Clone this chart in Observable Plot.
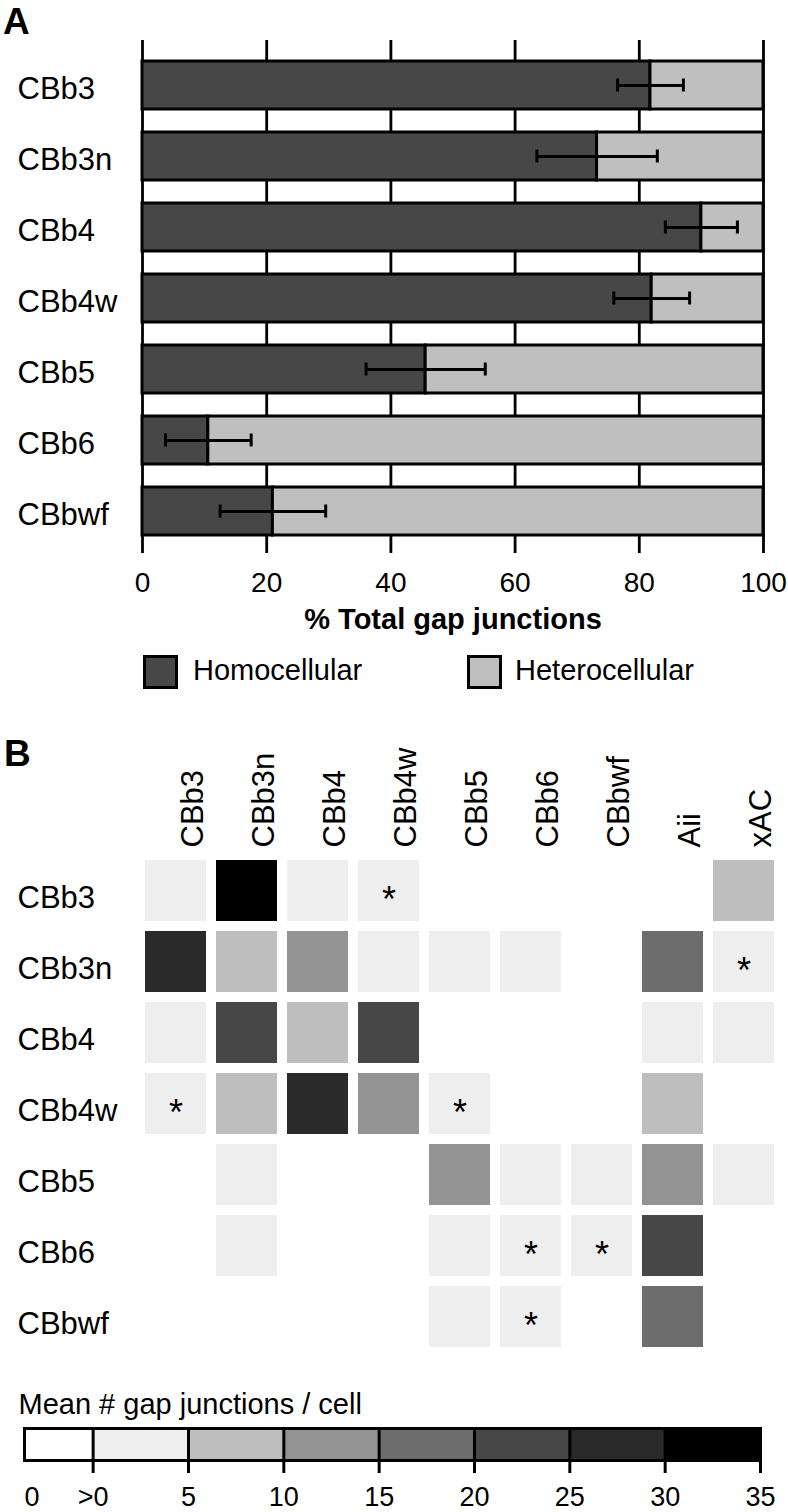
<!DOCTYPE html>
<html>
<head>
<meta charset="utf-8">
<script src="https://cdn.jsdelivr.net/npm/d3@7"></script>
<script src="https://cdn.jsdelivr.net/npm/@observablehq/plot@0.6"></script>
<style>
  body { margin: 0; background: #fff; font-family: "Liberation Sans", Arial, Helvetica, sans-serif; color: #000; }
  #wrap { position: relative; width: 788px; height: 1512px; overflow: hidden; }
  #wrap > svg, #wrap > div { position: absolute; }
  .letter { font-weight: bold; font-size: 37px; line-height: 37px; }
  .sw { width: 29px; height: 28px; border: 3px solid #000; }
  .lt { font-size: 29px; line-height: 29px; white-space: nowrap; }
</style>
</head>
<body>
<div id="wrap"></div>
<script>
// ---------- Panel A data ----------
const cellTypes = ["CBb3", "CBb3n", "CBb4", "CBb4w", "CBb5", "CBb6", "CBbwf"];
const homocellularPct = [81.8, 73.2, 90.0, 82.0, 45.6, 10.6, 21.0];
const errorPct = [5.3, 9.7, 5.8, 6.1, 9.6, 6.9, 8.5];
const xTicks = [0, 20, 40, 60, 80, 100];
const seriesNames = ["Homocellular", "Heterocellular"];
const seriesColors = ["#474747", "#bfbfbf"];
const xLabel = "% Total gap junctions";

// ---------- Panel B data ----------
const heatRows = ["CBb3", "CBb3n", "CBb4", "CBb4w", "CBb5", "CBb6", "CBbwf"];
const heatCols = ["CBb3", "CBb3n", "CBb4", "CBb4w", "CBb5", "CBb6", "CBbwf", "Aii", "xAC"];
// mean # gap junctions / cell (estimated within each shaded bin), 0 = none
const meanGJ = [
  [2, 33, 2, 2, 0, 0, 0, 0, 7],
  [27, 7, 12, 2, 2, 2, 0, 17, 2],
  [2, 22, 7, 22, 0, 0, 0, 2, 2],
  [2, 7, 27, 12, 2, 0, 0, 7, 0],
  [0, 2, 0, 0, 12, 2, 2, 12, 2],
  [0, 2, 0, 0, 2, 2, 2, 22, 0],
  [0, 0, 0, 0, 2, 2, 0, 17, 0]
];
const significant = [
  ["CBb3", "CBb4w"], ["CBb3n", "xAC"], ["CBb4w", "CBb3"], ["CBb4w", "CBb5"],
  ["CBb6", "CBb6"], ["CBb6", "CBbwf"], ["CBbwf", "CBb6"]
];
const binEdges = [0, 5, 10, 15, 20, 25, 30, 35];
const binLabels = [">0", "5", "10", "15", "20", "25", "30", "35"];
const binColors = ["#eeeeee", "#bebebe", "#939393", "#6d6d6d", "#474747", "#2a2a2a", "#000000"];
const legendTitle = "Mean # gap junctions / cell";

const FONT = "Liberation Sans, Arial, Helvetica, sans-serif";
const wrap = document.getElementById("wrap");

function place(el, left, top) {
  el.style.left = left + "px";
  el.style.top = top + "px";
  wrap.appendChild(el);
}
function div(cls, text) {
  const d = document.createElement("div");
  d.className = cls;
  if (text != null) d.textContent = text;
  return d;
}

// ---------- Panel A ----------
const stackData = cellTypes.flatMap((c, i) => [
  {cell: c, type: seriesNames[0], value: homocellularPct[i]},
  {cell: c, type: seriesNames[1], value: 100 - homocellularPct[i]}
]);
const errData = cellTypes.map((c, i) => ({
  cell: c, lo: homocellularPct[i] - errorPct[i], hi: homocellularPct[i] + errorPct[i]
}));

const plotA = Plot.plot({
  width: 788, height: 640,
  marginTop: 60, marginBottom: 104, marginLeft: 142, marginRight: 25,
  style: {fontFamily: FONT, background: "transparent", color: "#000", overflow: "visible"},
  x: {domain: [0, 100]},
  y: {domain: cellTypes, axis: null, paddingInner: 0.33, paddingOuter: 0},
  color: {domain: seriesNames, range: seriesColors},
  marks: [
    Plot.ruleX(xTicks, {stroke: "#000", strokeWidth: 2.8}),
    Plot.axisX({anchor: "top", ticks: xTicks, tickSize: 21, tickFormat: () => "", strokeWidth: 2.8, label: null}),
    Plot.axisX({anchor: "bottom", ticks: xTicks, tickSize: 17, tickPadding: 19, fontSize: 28, strokeWidth: 2.8, label: null}),
    Plot.barX(stackData, {x: "value", y: "cell", fill: "type", stroke: "#000", strokeWidth: 3, inset: 0}),
    Plot.ruleY(errData, {y: "cell", x1: "lo", x2: "hi", stroke: "#000", strokeWidth: 3}),
    Plot.tickX(errData, {x: "lo", y: "cell", stroke: "#000", strokeWidth: 3, insetTop: 17.5, insetBottom: 17.5}),
    Plot.tickX(errData, {x: "hi", y: "cell", stroke: "#000", strokeWidth: 3, insetTop: 17.5, insetBottom: 17.5}),
    Plot.text(cellTypes, {y: d => d, frameAnchor: "left", textAnchor: "start", dx: -125, dy: 4, fontSize: 31}),
    Plot.text([xLabel], {frameAnchor: "bottom", lineAnchor: "top", dy: 72, fontSize: 29, fontWeight: "bold"})
  ]
});
place(plotA, 0, 0);

// Panel A legend
const sw1 = div("sw"); sw1.style.background = seriesColors[0];
place(sw1, 143, 655);
place(div("lt", seriesNames[0]), 193, 656);
const sw2 = div("sw"); sw2.style.background = seriesColors[1];
place(sw2, 467, 655);
place(div("lt", seriesNames[1]), 515, 656);

// ---------- Panel B ----------
const heatData = heatRows.flatMap((r, i) => heatCols.map((c, j) => ({row: r, col: c, value: meanGJ[i][j]})))
  .filter(d => d.value > 0);
const starData = significant.map(([r, c]) => ({row: r, col: c}));
const colorCfg = {type: "threshold", domain: binEdges.slice(1, -1), range: binColors};

const plotB = Plot.plot({
  width: 788, height: 660,
  marginTop: 158, marginBottom: 11, marginLeft: 142, marginRight: 10,
  style: {fontFamily: FONT, background: "transparent", color: "#000", overflow: "visible"},
  x: {domain: heatCols, axis: null, paddingInner: 0.14, paddingOuter: 0},
  y: {domain: heatRows, axis: null, paddingInner: 0.14, paddingOuter: 0},
  color: colorCfg,
  marks: [
    Plot.cell(heatData, {x: "col", y: "row", fill: "value", inset: 0}),
    Plot.text(starData, {x: "col", y: "row", text: () => "*", fontSize: 36, dy: 9, fill: "#000"}),
    Plot.text(heatRows, {y: d => d, frameAnchor: "left", textAnchor: "start", dx: -125, dy: 7, fontSize: 31}),
    Plot.text(heatCols, {x: d => d, frameAnchor: "top", rotate: -90, textAnchor: "start", dx: 5, dy: -11, fontSize: 31})
  ]
});
place(plotB, 0, 700);

// ---------- Colour bar ----------
const legendBins = binEdges.slice(0, -1).map((e, i) => ({x1: e, x2: binEdges[i + 1], mid: (e + binEdges[i + 1]) / 2}));
const plotC = Plot.plot({
  width: 788, height: 132,
  marginTop: 48, marginBottom: 52, marginLeft: 24, marginRight: 28,
  style: {fontFamily: FONT, background: "transparent", color: "#000", overflow: "visible"},
  x: {domain: [-3.6, 35]},
  y: {axis: null},
  color: colorCfg,
  marks: [
    Plot.rect(legendBins, {x1: "x1", x2: "x2", fill: "mid"}),
    Plot.ruleX(binEdges, {stroke: "#000", strokeWidth: 3}),
    Plot.frame({stroke: "#000", strokeWidth: 3}),
    Plot.axisX({ticks: binEdges, tickSize: 13, tickPadding: 13, fontSize: 27, strokeWidth: 3, label: null,
      tickFormat: d => binLabels[binEdges.indexOf(d)]}),
    Plot.text(["0"], {frameAnchor: "bottom-left", textAnchor: "start", lineAnchor: "top", dy: 26, fontSize: 27}),
    Plot.text([legendTitle], {frameAnchor: "top-left", textAnchor: "start", lineAnchor: "top", dx: -6, dy: -35, fontSize: 29})
  ]
});
place(plotC, 0, 1380);

// Panel letters
place(div("letter", "A"), 3, 3);
place(div("letter", "B"), 4, 735);
</script>
</body>
</html>
